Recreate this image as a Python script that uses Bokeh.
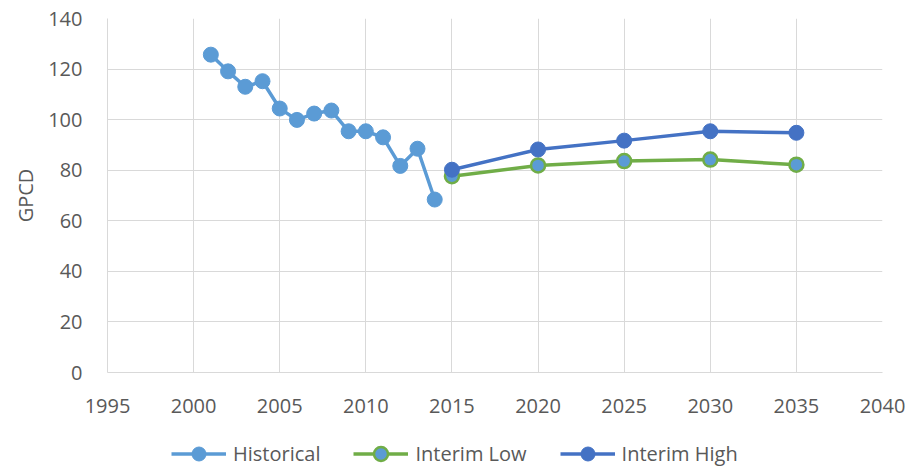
from bokeh.plotting import figure
from bokeh.models import Range1d, FixedTicker, Legend, LegendItem
from bokeh.layouts import column
from bokeh.embed import file_html
from bokeh.resources import INLINE

hist_years = [2001, 2002, 2003, 2004, 2005, 2006, 2007, 2008, 2009, 2010, 2011, 2012, 2013, 2014]
hist_gpcd = [125.7, 119.1, 113.0, 115.2, 104.4, 99.9, 102.4, 103.6, 95.4, 95.4, 93.0, 81.7, 88.5, 68.4]

proj_years = [2015, 2020, 2025, 2030, 2035]
low_gpcd = [77.6, 81.9, 83.6, 84.2, 82.2]
high_gpcd = [80.2, 88.2, 91.7, 95.4, 94.8]

x_ticks = [1995, 2000, 2005, 2010, 2015, 2020, 2025, 2030, 2035, 2040]
y_ticks = [0, 20, 40, 60, 80, 100, 120, 140]

FONT = "Open Sans"
TXT = "#595959"
GRID = "#D9D9D9"
C_HIST = "#5B9BD5"
C_LOW = "#70AD47"
C_HIGH = "#4472C4"

p = figure(width=905, height=418, output_backend="svg", toolbar_location=None,
           x_range=Range1d(1995, 2040), y_range=Range1d(0, 140),
           min_border_left=107, min_border_right=23, min_border_top=18, min_border_bottom=46)
p.outline_line_color = None
p.background_fill_color = "white"
p.border_fill_color = "white"

p.xaxis.ticker = FixedTicker(ticks=x_ticks)
p.yaxis.ticker = FixedTicker(ticks=y_ticks)
for ax in (p.xaxis, p.yaxis):
    ax.axis_line_color = GRID
    ax.major_tick_line_color = None
    ax.minor_tick_line_color = None
    ax.major_label_text_font = FONT
    ax.major_label_text_font_size = "20px"
    ax.major_label_text_color = TXT
p.xaxis.major_label_standoff = 20
p.yaxis.major_label_standoff = 19
p.yaxis.axis_label = "GPCD"
p.yaxis.axis_label_text_font = FONT
p.yaxis.axis_label_text_font_size = "20px"
p.yaxis.axis_label_text_font_style = "normal"
p.yaxis.axis_label_text_color = TXT
p.yaxis.axis_label_standoff = 6

p.xgrid.grid_line_color = GRID
p.ygrid.grid_line_color = GRID
p.xgrid.ticker = FixedTicker(ticks=x_ticks)
p.ygrid.ticker = FixedTicker(ticks=y_ticks)


def draw(fig, sizes):
    rs = []
    rs.append((fig.line(hist_years, hist_gpcd, line_color=C_HIST, line_width=3.5),
               fig.scatter(hist_years, hist_gpcd, size=sizes[0], fill_color=C_HIST, line_color=C_HIST)))
    rs.append((fig.line(proj_years, low_gpcd, line_color=C_LOW, line_width=3.5),
               fig.scatter(proj_years, low_gpcd, size=sizes[1], fill_color=C_HIST, line_color=C_LOW, line_width=2.5)))
    rs.append((fig.line(proj_years, high_gpcd, line_color=C_HIGH, line_width=3.5),
               fig.scatter(proj_years, high_gpcd, size=sizes[2], fill_color=C_HIGH, line_color=C_HIGH)))
    return rs


draw(p, (15, 14, 15))

# legend strip below the chart (its glyphs are outside its visible ranges)
lf = figure(width=905, height=49, output_backend="svg", toolbar_location=None,
            x_range=Range1d(0, 1), y_range=Range1d(0, 1), min_border=0)
lf.axis.visible = False
lf.grid.visible = False
lf.outline_line_color = None
lrs = draw(lf, (14, 14, 14))

legend = Legend(items=[
    LegendItem(label="Historical", renderers=list(lrs[0])),
    LegendItem(label="Interim Low", renderers=list(lrs[1])),
    LegendItem(label="Interim High", renderers=list(lrs[2])),
], orientation="horizontal", location=(64, -4))
legend.margin = 0
legend.padding = 0
legend.border_line_alpha = 0
legend.background_fill_alpha = 0
legend.glyph_width = 55
legend.glyph_height = 35
legend.label_height = 20
legend.label_standoff = 7
legend.spacing = 33
legend.label_text_font = FONT
legend.label_text_font_size = "20px"
legend.label_text_color = TXT
lf.add_layout(legend, "center")

layout = column(p, lf, spacing=0)
open("out.html", "w").write(file_html(layout, INLINE))
